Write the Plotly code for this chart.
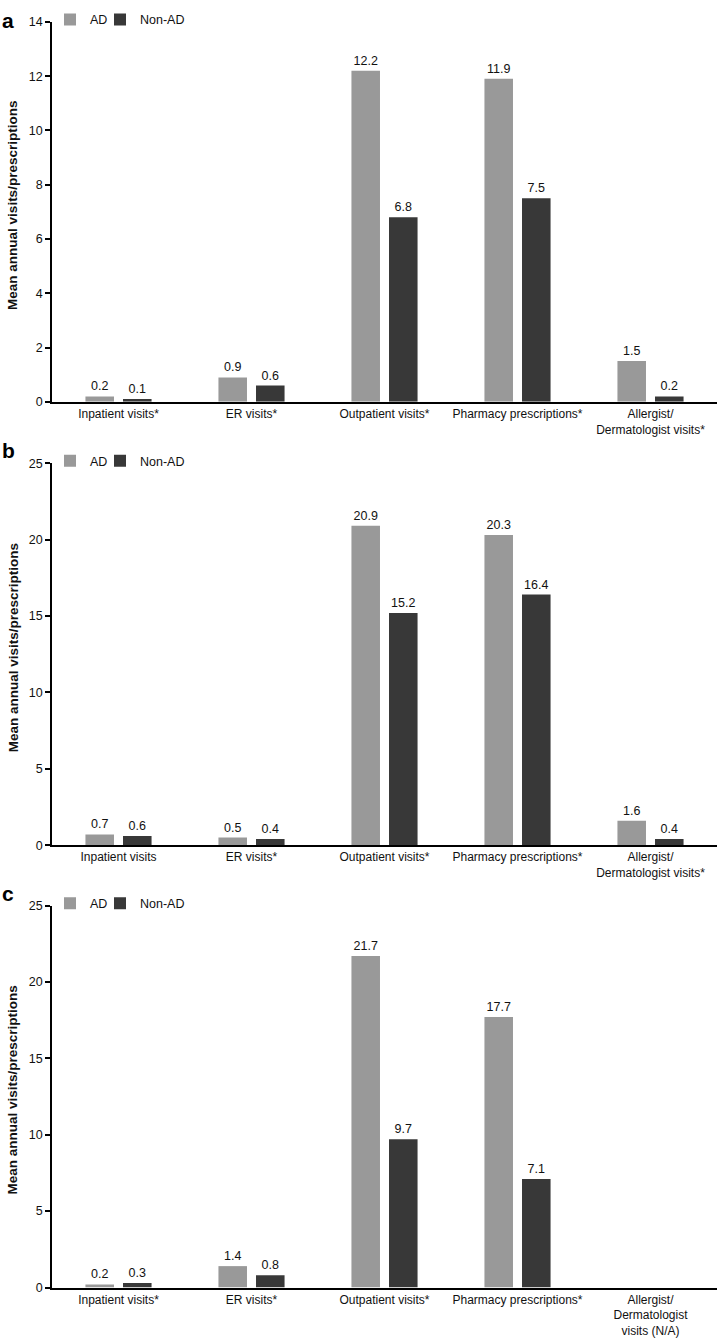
import plotly.graph_objects as go
from plotly.subplots import make_subplots

cats_a = ["Inpatient visits*", "ER visits*", "Outpatient visits*", "Pharmacy prescriptions*",
          "Allergist/<br>Dermatologist visits*"]
cats_b = ["Inpatient visits", "ER visits*", "Outpatient visits*", "Pharmacy prescriptions*",
          "Allergist/<br>Dermatologist visits*"]
cats_c = ["Inpatient visits*", "ER visits*", "Outpatient visits*", "Pharmacy prescriptions*",
          "Allergist/<br>Dermatologist<br>visits (N/A)"]

ad_a = [0.2, 0.9, 12.2, 11.9, 1.5]
nonad_a = [0.1, 0.6, 6.8, 7.5, 0.2]
ad_b = [0.7, 0.5, 20.9, 20.3, 1.6]
nonad_b = [0.6, 0.4, 15.2, 16.4, 0.4]
ad_c = [0.2, 1.4, 21.7, 17.7, None]
nonad_c = [0.3, 0.8, 9.7, 7.1, None]

yticks_a = [0, 2, 4, 6, 8, 10, 12, 14]
yticks_bc = [0, 5, 10, 15, 20, 25]
panel_labels = ["a", "b", "c"]
series_names = ["AD", "Non-AD"]

AD_COLOR = "#999999"
NONAD_COLOR = "#383838"
FONT = "Liberation Sans, Arial, Helvetica, sans-serif"
W, H = 717, 1343

fig = make_subplots(rows=3, cols=1)

panels = [
    (cats_a, ad_a, nonad_a, yticks_a, 14, 15, 399),
    (cats_b, ad_b, nonad_b, yticks_bc, 25, 461, 847),
    (cats_c, ad_c, nonad_c, yticks_bc, 25, 908, 1294),
]
legend_x = [50, 100]

leg_count = 0
for i, (cats, ad, nonad, yt, ymax, top, bot) in enumerate(panels):
    r = i + 1
    for j, (name, vals, col) in enumerate([(series_names[0], ad, AD_COLOR),
                                           (series_names[1], nonad, NONAD_COLOR)]):
        leg_count += 1
        leg = "legend" if leg_count == 1 else f"legend{leg_count}"
        fig.add_trace(go.Bar(
            x=cats, y=vals, name=name, marker=dict(color=col, line=dict(width=0)),
            text=[("%.1f" % v) if v is not None else "" for v in vals],
            textposition="outside", cliponaxis=False,
            textfont=dict(family=FONT, size=12.5, color="#111111"),
            legend=leg, showlegend=True,
        ), row=r, col=1)
        fig.layout[leg] = dict(
            orientation="h", x=legend_x[j] / W, y=1 - (top - 2) / H,
            xanchor="left", yanchor="middle",
            font=dict(family=FONT, size=12.5, color="#111111"), bgcolor="rgba(0,0,0,0)",
            itemwidth=30,
        )
    xa = "xaxis" if r == 1 else f"xaxis{r}"
    ya = "yaxis" if r == 1 else f"yaxis{r}"
    fig.layout[xa].update(
        domain=[52 / W, 1], range=[-0.5, 4.5], showline=True, linecolor="black", linewidth=1.5,
        ticks="", showgrid=False, zeroline=False,
        tickfont=dict(family=FONT, size=12, color="#111111"),
    )
    fig.layout[ya].update(
        domain=[1 - bot / H, 1 - top / H], range=[0, ymax], tickvals=yt,
        showline=True, linecolor="black", linewidth=1.5, ticks="outside", ticklen=5,
        tickwidth=1.5, tickcolor="black", showgrid=False, zeroline=False,
        tickfont=dict(family=FONT, size=12.5, color="#111111"),
    )
    # y axis title
    fig.add_annotation(
        text="<b>Mean annual visits/prescriptions</b>", textangle=-90,
        x=13 / W, y=1 - ((top + bot) / 2 - 6) / H, xref="paper", yref="paper",
        showarrow=False, font=dict(family=FONT, size=13.5, color="#111111"),
        xanchor="center", yanchor="middle",
    )
    # panel letter
    letter_top = max(0, top - 26)
    fig.add_annotation(
        text=f"<b>{panel_labels[i]}</b>", x=0, y=1 - letter_top / H,
        xref="paper", yref="paper", showarrow=False, xanchor="left", yanchor="top",
        font=dict(family=FONT, size=21, color="black"),
    )

fig.update_layout(
    width=W, height=H, margin=dict(l=0, r=0, t=0, b=0),
    plot_bgcolor="white", paper_bgcolor="white",
    barmode="group", bargap=0.435, bargroupgap=0.24,
    font=dict(family=FONT, size=12, color="#111111"),
)

fig.write_html(
    "out.html",
    config={"displayModeBar": False},
    post_script="document.body.style.margin='0';document.body.style.padding='0';",
)
